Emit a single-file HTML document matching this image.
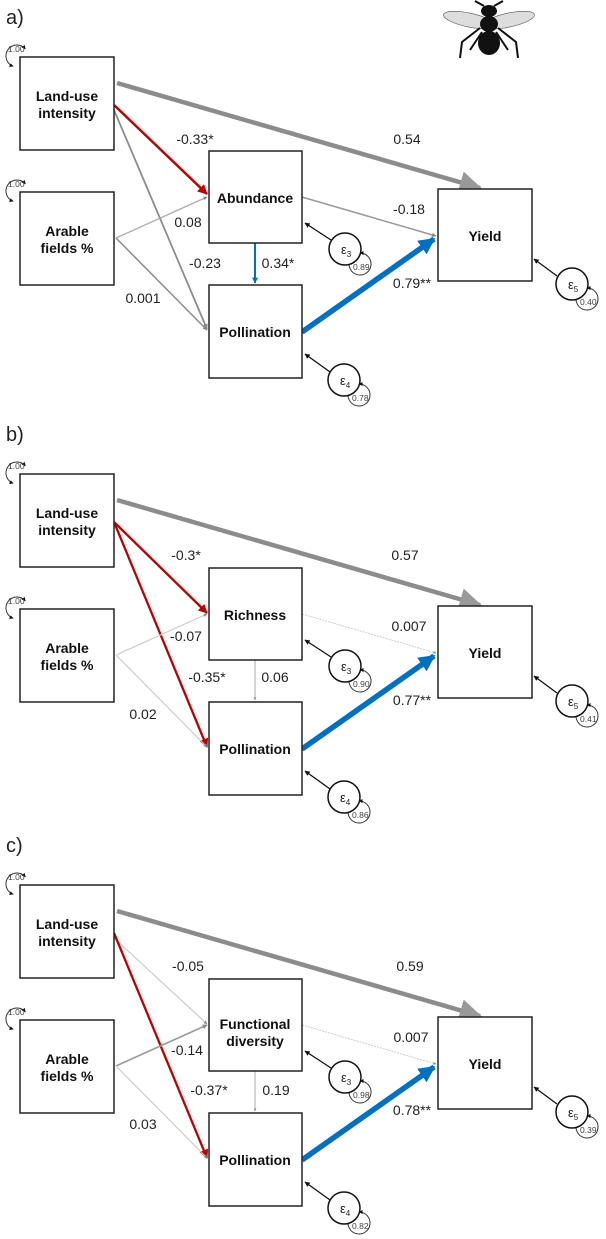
<!DOCTYPE html>
<html><head><meta charset="utf-8"><style>
html,body{margin:0;padding:0;background:#fff}
svg{display:block}
text{font-family:"Liberation Sans",sans-serif}
.b{font-weight:bold;font-size:14px;fill:#111}
.n{font-size:14px;fill:#222}
.s{font-size:8.5px;fill:#444}
.box{fill:#fff;stroke:#222;stroke-width:1.5}
</style></head><body>
<svg width="606" height="1239" viewBox="0 0 606 1239" xmlns="http://www.w3.org/2000/svg">
<defs>
<marker id="ag" viewBox="0 0 10 10" refX="9" refY="5" markerWidth="3" markerHeight="3" orient="auto"><path d="M0,0L10,5L0,10z" fill="#888"/></marker>
<marker id="agl" viewBox="0 0 10 10" refX="9" refY="5" markerWidth="5" markerHeight="5" orient="auto"><path d="M0,0L10,5L0,10z" fill="#999"/></marker>
<marker id="ar" viewBox="0 0 10 10" refX="9" refY="5" markerWidth="4" markerHeight="4" orient="auto"><path d="M0,0L10,5L0,10z" fill="#c00000"/></marker>
<marker id="ab" viewBox="0 0 10 10" refX="9" refY="5" markerWidth="3" markerHeight="3" orient="auto"><path d="M0,0L10,5L0,10z" fill="#0070c0"/></marker>
<marker id="ak" viewBox="0 0 10 10" refX="9" refY="5" markerWidth="4" markerHeight="4" orient="auto"><path d="M0,0L10,5L0,10z" fill="#111"/></marker>
<marker id="aks" viewBox="0 0 10 10" refX="1" refY="5" markerWidth="4" markerHeight="4" orient="auto"><path d="M10,0L0,5L10,10z" fill="#111"/></marker>
<g id="common">
  <path d="M25.4,48.9 A11,11 0 1 0 13.2,66.3" fill="none" stroke="#333" stroke-width="1" marker-start="url(#aks)" marker-end="url(#ak)"/>
  <text x="8" y="52" class="s">1.00</text>
  <path d="M25.4,183.9 A11,11 0 1 0 13.2,201.3" fill="none" stroke="#333" stroke-width="1" marker-start="url(#aks)" marker-end="url(#ak)"/>
  <text x="8" y="187" class="s">1.00</text>
  <line x1="117" y1="83" x2="480" y2="188" stroke="#8c8c8c" stroke-width="4.5" marker-end="url(#agl)"/>
  <line x1="302" y1="332" x2="434" y2="239" stroke="#0070c0" stroke-width="5.5" marker-end="url(#ab)"/>
  <rect class="box" x="20" y="57" width="94" height="93"/>
  <text x="67" y="101" class="b" text-anchor="middle">Land-use</text>
  <text x="67" y="118" class="b" text-anchor="middle">intensity</text>
  <rect class="box" x="20" y="192" width="94" height="93"/>
  <text x="67" y="236" class="b" text-anchor="middle">Arable</text>
  <text x="67" y="253" class="b" text-anchor="middle">fields %</text>
  <rect class="box" x="209" y="285" width="93" height="93"/>
  <text x="255" y="337" class="b" text-anchor="middle">Pollination</text>
  <rect class="box" x="438" y="189" width="94" height="92"/>
  <text x="485" y="241" class="b" text-anchor="middle">Yield</text>
  <line x1="331" y1="240" x2="305" y2="223" stroke="#111" stroke-width="1.3" marker-end="url(#ak)"/>
  <path d="M349.7,260.2 A11,11 0 1 0 360,253" fill="none" stroke="#333" stroke-width="1" marker-start="url(#aks)" marker-end="url(#ak)"/>
  <circle cx="345" cy="249" r="16" fill="#fff" stroke="#111" stroke-width="1.5"/>
  <text x="341" y="254" font-size="13" fill="#222" font-family="Liberation Sans">ε<tspan font-size="8" dy="3">3</tspan></text>
  <line x1="330" y1="372" x2="305" y2="354" stroke="#111" stroke-width="1.3" marker-end="url(#ak)"/>
  <path d="M348.7,391.2 A11,11 0 1 0 359,384" fill="none" stroke="#333" stroke-width="1" marker-start="url(#aks)" marker-end="url(#ak)"/>
  <circle cx="344" cy="380" r="16" fill="#fff" stroke="#111" stroke-width="1.5"/>
  <text x="340" y="385" font-size="13" fill="#222" font-family="Liberation Sans">ε<tspan font-size="8" dy="3">4</tspan></text>
  <line x1="557" y1="276" x2="534" y2="259" stroke="#111" stroke-width="1.3" marker-end="url(#ak)"/>
  <path d="M576.7,295.2 A11,11 0 1 0 587,288" fill="none" stroke="#333" stroke-width="1" marker-start="url(#aks)" marker-end="url(#ak)"/>
  <circle cx="572" cy="284" r="16" fill="#fff" stroke="#111" stroke-width="1.5"/>
  <text x="568" y="289" font-size="13" fill="#222" font-family="Liberation Sans">ε<tspan font-size="8" dy="3">5</tspan></text>
</g>
</defs>

<g>
  <text x="6" y="24" font-size="20" fill="#222">a)</text>
  <g fill="#111">
    <ellipse cx="469" cy="20" rx="26" ry="7" fill="#ddd" stroke="#555" stroke-width="0.6" transform="rotate(12 469 20)"/>
    <ellipse cx="509" cy="20" rx="26" ry="7" fill="#ddd" stroke="#555" stroke-width="0.6" transform="rotate(-12 509 20)"/>
    <ellipse cx="489" cy="11" rx="8" ry="6"/>
    <ellipse cx="489" cy="24" rx="9" ry="8"/>
    <ellipse cx="489" cy="43" rx="11" ry="12"/>
    <path d="M480,28 L462,42 L460,58 M498,28 L516,42 L518,58 M482,32 L470,50 M496,32 L508,50 M484,6 L475,1 M494,6 L503,1" stroke="#111" stroke-width="2" fill="none"/>
  </g>
  <line x1="114" y1="105" x2="207" y2="194" stroke="#c00000" stroke-width="2.5" marker-end="url(#ar)"/>
  <line x1="114" y1="110" x2="207" y2="329" stroke="#8c8c8c" stroke-width="1.8" marker-end="url(#ag)"/>
  <line x1="116" y1="238" x2="207" y2="197" stroke="#aaa" stroke-width="1.3" marker-end="url(#ag)"/>
  <line x1="116" y1="238" x2="207" y2="330" stroke="#8c8c8c" stroke-width="1.5" marker-end="url(#ag)"/>
  <line x1="302" y1="197" x2="436" y2="236" stroke="#999" stroke-width="1.5" marker-end="url(#ag)"/>
  <line x1="255" y1="243" x2="255" y2="283" stroke="#0070c0" stroke-width="2" marker-end="url(#ab)"/>
  <use href="#common"/>
  <rect class="box" x="209" y="151" width="93" height="92"/>
  <text x="255" y="203" class="b" text-anchor="middle">Abundance</text>
  <text x="353" y="270" class="s">0.89</text><text x="352" y="401" class="s">0.78</text><text x="580" y="305" class="s">0.40</text>
  <g class="n" text-anchor="middle">
    <text x="195" y="144">-0.33*</text><text x="407" y="144">0.54</text>
    <text x="188" y="227">0.08</text><text x="409" y="214">-0.18</text>
    <text x="205" y="268">-0.23</text><text x="278" y="268">0.34*</text>
    <text x="143" y="303">0.001</text><text x="412" y="288">0.79**</text>
  </g>
</g>

<g transform="translate(0,417)">
  <text x="6" y="24" font-size="20" fill="#222">b)</text>
  <line x1="114" y1="105" x2="207" y2="196" stroke="#c00000" stroke-width="2.3" marker-end="url(#ar)"/>
  <line x1="114" y1="105" x2="207" y2="330" stroke="#c00000" stroke-width="2.3" marker-end="url(#ar)"/>
  <line x1="116" y1="238" x2="207" y2="197" stroke="#ccc" stroke-width="1.2" marker-end="url(#ag)"/>
  <line x1="116" y1="238" x2="207" y2="330" stroke="#ccc" stroke-width="1.2" marker-end="url(#ag)"/>
  <line x1="302" y1="197" x2="436" y2="236" stroke="#ccc" stroke-width="1" stroke-dasharray="2,1" marker-end="url(#ag)"/>
  <line x1="255" y1="243" x2="255" y2="283" stroke="#aaa" stroke-width="1" marker-end="url(#ag)"/>
  <use href="#common"/>
  <rect class="box" x="209" y="151" width="93" height="92"/>
  <text x="255" y="203" class="b" text-anchor="middle">Richness</text>
  <text x="353" y="270" class="s">0.90</text><text x="352" y="401" class="s">0.86</text><text x="580" y="305" class="s">0.41</text>
  <g class="n" text-anchor="middle">
    <text x="186" y="143">-0.3*</text><text x="405" y="143">0.57</text>
    <text x="186" y="224">-0.07</text><text x="409" y="214">0.007</text>
    <text x="207" y="265">-0.35*</text><text x="275" y="265">0.06</text>
    <text x="143" y="302">0.02</text><text x="412" y="288">0.77**</text>
  </g>
</g>

<g transform="translate(0,828)">
  <text x="6" y="24" font-size="20" fill="#222">c)</text>
  <line x1="114" y1="110" x2="207" y2="196" stroke="#ccc" stroke-width="1.2" marker-end="url(#ag)"/>
  <line x1="114" y1="105" x2="207" y2="330" stroke="#c00000" stroke-width="2.3" marker-end="url(#ar)"/>
  <line x1="116" y1="238" x2="207" y2="197" stroke="#999" stroke-width="1.6" marker-end="url(#ag)"/>
  <line x1="116" y1="238" x2="207" y2="330" stroke="#ccc" stroke-width="1.2" marker-end="url(#ag)"/>
  <line x1="302" y1="197" x2="436" y2="236" stroke="#ccc" stroke-width="1" stroke-dasharray="2,1" marker-end="url(#ag)"/>
  <line x1="255" y1="243" x2="255" y2="283" stroke="#aaa" stroke-width="1" marker-end="url(#ag)"/>
  <use href="#common"/>
  <rect class="box" x="209" y="151" width="93" height="92"/>
  <text x="255" y="201" class="b" text-anchor="middle">Functional</text>
  <text x="255" y="218" class="b" text-anchor="middle">diversity</text>
  <text x="353" y="270" class="s">0.98</text><text x="352" y="401" class="s">0.82</text><text x="580" y="305" class="s">0.39</text>
  <g class="n" text-anchor="middle">
    <text x="188" y="143">-0.05</text><text x="410" y="143">0.59</text>
    <text x="187" y="227">-0.14</text><text x="411" y="214">0.007</text>
    <text x="209" y="267">-0.37*</text><text x="276" y="267">0.19</text>
    <text x="143" y="301">0.03</text><text x="412" y="287">0.78**</text>
  </g>
</g>
</svg>
</body></html>
